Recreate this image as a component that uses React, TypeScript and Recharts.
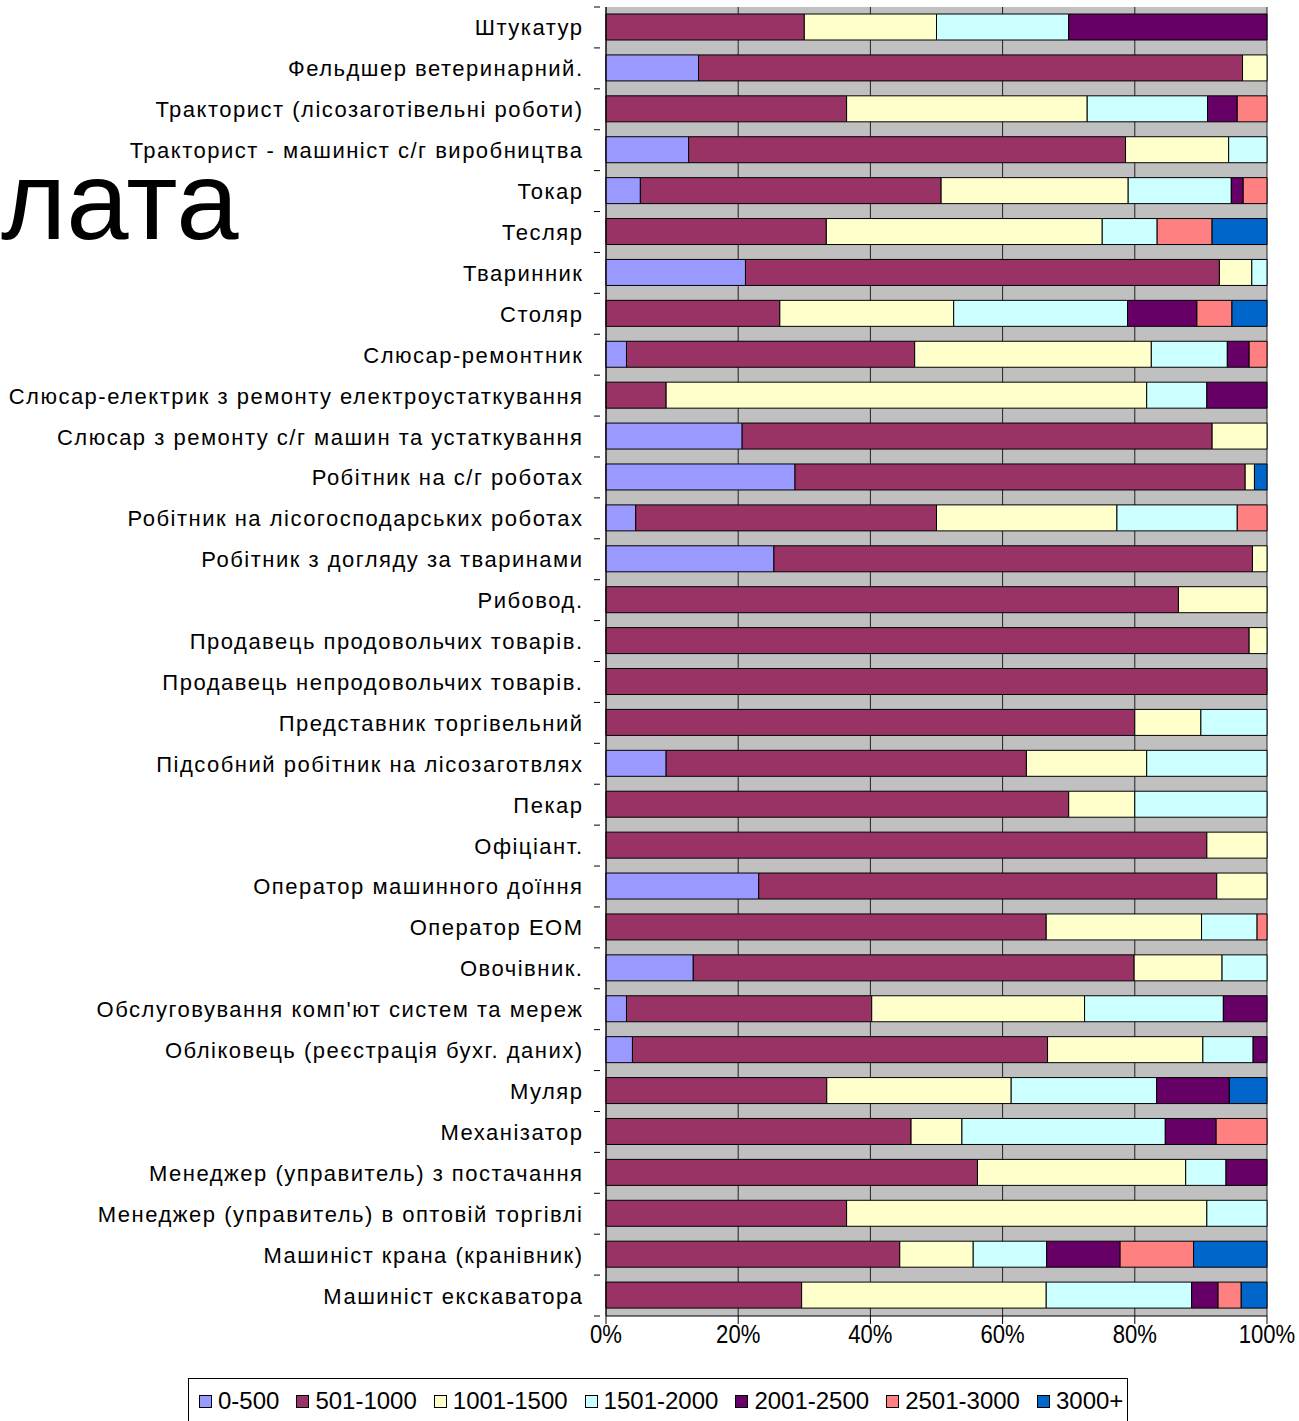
import { Bar, BarChart, CartesianGrid, XAxis, YAxis } from 'recharts';

const categories = [
  'Штукатур',
  'Фельдшер ветеринарний.',
  'Тракторист (лісозаготівельні роботи)',
  'Тракторист - машиніст с/г виробництва',
  'Токар',
  'Тесляр',
  'Тваринник',
  'Столяр',
  'Слюсар-ремонтник',
  'Слюсар-електрик з ремонту електроустаткування',
  'Слюсар з ремонту с/г машин та устаткування',
  'Робітник на с/г роботах',
  'Робітник на лісогосподарських роботах',
  'Робітник з догляду за тваринами',
  'Рибовод.',
  'Продавець продовольчих товарів.',
  'Продавець непродовольчих товарів.',
  'Представник торгівельний',
  'Підсобний робітник на лісозаготвлях',
  'Пекар',
  'Офіціант.',
  'Оператор машинного доїння',
  'Оператор ЕОМ',
  'Овочівник.',
  "Обслуговування комп'ют систем та мереж",
  'Обліковець (реєстрація бухг. даних)',
  'Муляр',
  'Механізатор',
  'Менеджер (управитель) з постачання',
  'Менеджер (управитель) в оптовій торгівлі',
  'Машиніст крана (кранівник)',
  'Машиніст екскаватора',
];

const s0_500 = [0, 14, 0, 12.5, 5.2, 0, 21.1, 0, 3.1, 0, 20.6, 28.6, 4.5, 25.4, 0, 0, 0, 0, 9.1, 0, 0, 23.1, 0, 13.2, 3.1, 4.0, 0, 0, 0, 0, 0, 0];
const s501_1000 = [30, 82.3, 36.4, 66.1, 45.5, 33.3, 71.7, 26.3, 43.6, 9.1, 71.1, 68.1, 45.5, 72.4, 86.6, 97.3, 100, 80, 54.5, 70, 90.9, 69.3, 66.6, 66.7, 37.1, 62.8, 33.4, 46.2, 56.2, 36.4, 44.4, 29.6];
const s1001_1500 = [20, 3.7, 36.4, 15.6, 28.3, 41.7, 4.9, 26.3, 35.8, 72.7, 8.3, 1.4, 27.3, 2.2, 13.4, 2.7, 0, 10, 18.2, 10, 9.1, 7.6, 23.5, 13.3, 32.2, 23.5, 27.9, 7.7, 31.5, 54.5, 11.1, 37.0];
const s1501_2000 = [20, 0, 18.2, 5.8, 15.6, 8.3, 2.3, 26.3, 11.5, 9.1, 0, 0, 18.2, 0, 0, 0, 0, 10, 18.2, 20, 0, 0, 8.4, 6.8, 21.0, 7.6, 22.0, 30.8, 6.1, 9.1, 11.1, 22.0];
const s2001_2500 = [30, 0, 4.5, 0, 1.8, 0, 0, 10.5, 3.3, 9.1, 0, 0, 0, 0, 0, 0, 0, 0, 0, 0, 0, 0, 0, 0, 6.6, 2.1, 11.0, 7.7, 6.2, 0, 11.1, 4.0];
const s2501_3000 = [0, 0, 4.5, 0, 3.6, 8.3, 0, 5.3, 2.7, 0, 0, 0, 4.5, 0, 0, 0, 0, 0, 0, 0, 0, 0, 1.5, 0, 0, 0, 0, 7.7, 0, 0, 11.1, 3.5];
const s3000plus = [0, 0, 0, 0, 0, 8.3, 0, 5.3, 0, 0, 0, 1.9, 0, 0, 0, 0, 0, 0, 0, 0, 0, 0, 0, 0, 0, 0, 5.7, 0, 0, 0, 11.1, 3.9];

const xTicks = [0, 0.2, 0.4, 0.6, 0.8, 1];

const series = [
  { key: '0-500', values: s0_500, color: '#9999FF' },
  { key: '501-1000', values: s501_1000, color: '#993366' },
  { key: '1001-1500', values: s1001_1500, color: '#FFFFCC' },
  { key: '1501-2000', values: s1501_2000, color: '#CCFFFF' },
  { key: '2001-2500', values: s2001_2500, color: '#660066' },
  { key: '2501-3000', values: s2501_3000, color: '#FF8080' },
  { key: '3000+', values: s3000plus, color: '#0066CC' },
];

const data = categories.map((name, i) => {
  const row: any = { name };
  series.forEach((s) => (row[s.key] = s.values[i]));
  return row;
});

const FONT = '"Liberation Sans", Arial, sans-serif';
const PLOT_H = 1309;
const BAND = PLOT_H / categories.length;

// labels sit left of the axis; the little ticks go between categories like Excel does
function CategoryTick(props: any) {
  const { x, y, payload } = props;
  return (
    <g>
      <line x1={x + 12} x2={x + 18} y1={y + BAND / 2} y2={y + BAND / 2} stroke="#000" />
      {payload.index === 0 && (
        <line x1={x + 12} x2={x + 18} y1={y - BAND / 2} y2={y - BAND / 2} stroke="#000" />
      )}
      <text
        x={x + 1.5}
        y={y}
        dy={8}
        textAnchor="end"
        fontSize={22}
        letterSpacing={1.5}
        fontFamily={FONT}
        fill="#000"
      >
        {payload.value}
      </text>
    </g>
  );
}

function PercentTick(props: any) {
  const { x, y, payload } = props;
  return (
    <text
      transform={`translate(${x},${y}) scale(0.85,1)`}
      dy={19}
      textAnchor="middle"
      fontSize={26}
      fontFamily={FONT}
      fill="#000"
    >
      {`${Math.round(payload.value * 100)}%`}
    </text>
  );
}

export default function App() {
  return (
    <div style={{ position: 'absolute', left: 0, top: 0, width: 1299, height: 1421, background: '#fff', overflow: 'hidden' }}>
      <div
        style={{
          position: 'absolute',
          left: 1,
          top: 145,
          fontFamily: 'Arial, "Liberation Sans", sans-serif',
          fontSize: 112,
          lineHeight: 1,
          color: '#000',
        }}
      >
        лата
      </div>
      <BarChart
        width={1299}
        height={1370}
        data={data}
        layout="vertical"
        stackOffset="expand"
        barSize={26}
        margin={{ top: 7, right: 32, left: 0, bottom: 0 }}
        style={{ position: 'absolute', left: 0, top: 0 }}
      >
        <CartesianGrid horizontal={false} stroke="#222" fill="#C0C0C0" />
        <XAxis
          type="number"
          domain={[0, 1]}
          ticks={xTicks}
          height={54}
          tickSize={8}
          tickMargin={0}
          stroke="#000"
          tick={<PercentTick />}
          interval={0}
        />
        <YAxis
          type="category"
          dataKey="name"
          width={606}
          tickLine={false}
          tickMargin={18}
          stroke="#000"
          interval={0}
          tick={<CategoryTick />}
        />
        {series.map((s) => (
          <Bar
            key={s.key}
            dataKey={s.key}
            stackId="a"
            fill={s.color}
            stroke="#000"
            strokeWidth={1}
            isAnimationActive={false}
          />
        ))}
      </BarChart>
      <div
        style={{
          position: 'absolute',
          left: 188,
          top: 1378,
          width: 940,
          height: 60,
          border: '1px solid #000',
          boxSizing: 'border-box',
          display: 'flex',
          alignItems: 'flex-start',
          paddingTop: 8,
          paddingLeft: 10,
          gap: 17,
          fontFamily: FONT,
          fontSize: 24,
          color: '#000',
        }}
      >
        {series.map((s) => (
          <div key={s.key} style={{ display: 'flex', alignItems: 'center', gap: 6 }}>
            <span style={{ width: 11, height: 11, background: s.color, border: '1px solid #000', display: 'inline-block' }} />
            <span>{s.key}</span>
          </div>
        ))}
      </div>
    </div>
  );
}
